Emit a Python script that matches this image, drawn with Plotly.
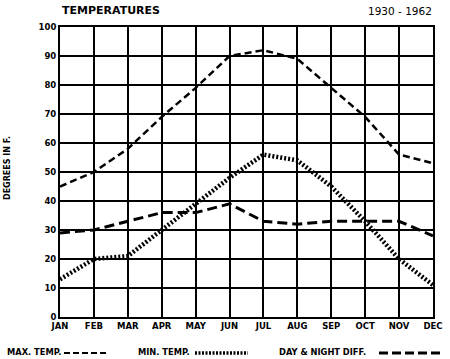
import plotly.graph_objects as go

months = ["JAN", "FEB", "MAR", "APR", "MAY", "JUN", "JUL", "AUG", "SEP", "OCT", "NOV", "DEC"]
max_temp = [45, 50, 58, 69, 79, 90, 92, 89, 79, 69, 56, 53]
min_temp = [13, 20, 21, 30, 39, 48, 56, 54, 45, 33, 20, 11]
day_night_diff = [29, 30, 33, 36, 36, 39, 33, 32, 33, 33, 33, 28]
y_ticks = [0, 10, 20, 30, 40, 50, 60, 70, 80, 90, 100]

FONT = "DejaVu Sans"
fig = go.Figure()
fig.add_trace(go.Scatter(x=months, y=max_temp, mode="lines", name="MAX. TEMP.",
                         line=dict(color="black", width=2.5, dash="7px,4px")))
fig.add_trace(go.Scatter(x=months, y=min_temp, mode="lines", name="MIN. TEMP.",
                         line=dict(color="black", width=4.5, dash="2px,2px")))
fig.add_trace(go.Scatter(x=months, y=day_night_diff, mode="lines", name="DAY & NIGHT DIFF.",
                         line=dict(color="black", width=3, dash="10px,5px")))

fig.update_layout(
    width=450, height=359,
    margin=dict(l=60, r=17, t=27, b=42),
    paper_bgcolor="white", plot_bgcolor="white",
    showlegend=False,
    font=dict(family=FONT, color="black", size=9),
)
fig.update_xaxes(range=[0, 11], showgrid=True, gridcolor="black", gridwidth=1.5,
                 showline=True, linecolor="black", linewidth=2, mirror=True,
                 zeroline=False, ticks="", automargin=False,
                 tickfont=dict(family=FONT, size=8.5, weight="bold"))
fig.update_yaxes(range=[0, 100], tickvals=y_ticks, showgrid=True, gridcolor="black",
                 gridwidth=1.5, showline=True, linecolor="black", linewidth=2, mirror=True,
                 zeroline=False, ticks="", automargin=False,
                 tickfont=dict(family=FONT, size=8.5, weight="bold"))

def px(x):
    return (x - 60) / 373.0

def py(y):
    return (317 - y) / 290.0

fig.add_annotation(text="<b>TEMPERATURES</b>",
                   x=px(60), y=py(11), xref="paper", yref="paper",
                   xanchor="left", yanchor="middle", showarrow=False,
                   font=dict(family=FONT, size=11))
fig.add_annotation(text="1930 - 1962", x=px(434), y=py(11), xref="paper", yref="paper",
                   xanchor="right", yanchor="middle", showarrow=False,
                   font=dict(family=FONT, size=10.5))
fig.add_annotation(text="<b>DEGREES IN F.</b>", x=px(7), y=py(168), xref="paper", yref="paper",
                   xanchor="center", yanchor="middle", showarrow=False, textangle=-90,
                   font=dict(family=FONT, size=8))

legend_items = [
    ("MAX. TEMP.", 5, 64, 107, dict(width=2, dash="6px,3px")),
    ("MIN. TEMP.", 136, 195, 248, dict(width=3.5, dash="2px,1.5px")),
    ("DAY & NIGHT DIFF.", 277, 379, 443, dict(width=3, dash="9px,4px")),
]
for label, tx, x0, x1, ln in legend_items:
    fig.add_annotation(text="<b>" + label + "</b>", x=px(tx), y=py(352), xref="paper", yref="paper",
                       xanchor="left", yanchor="middle", showarrow=False,
                       font=dict(family=FONT, size=8.3))
    fig.add_shape(type="line", xref="paper", yref="paper", x0=px(x0), x1=px(x1),
                  y0=py(353), y1=py(353), line=dict(color="black", **ln))

fig.write_html("out.html", config={"displayModeBar": False},
               post_script="document.body.style.margin='0';")
